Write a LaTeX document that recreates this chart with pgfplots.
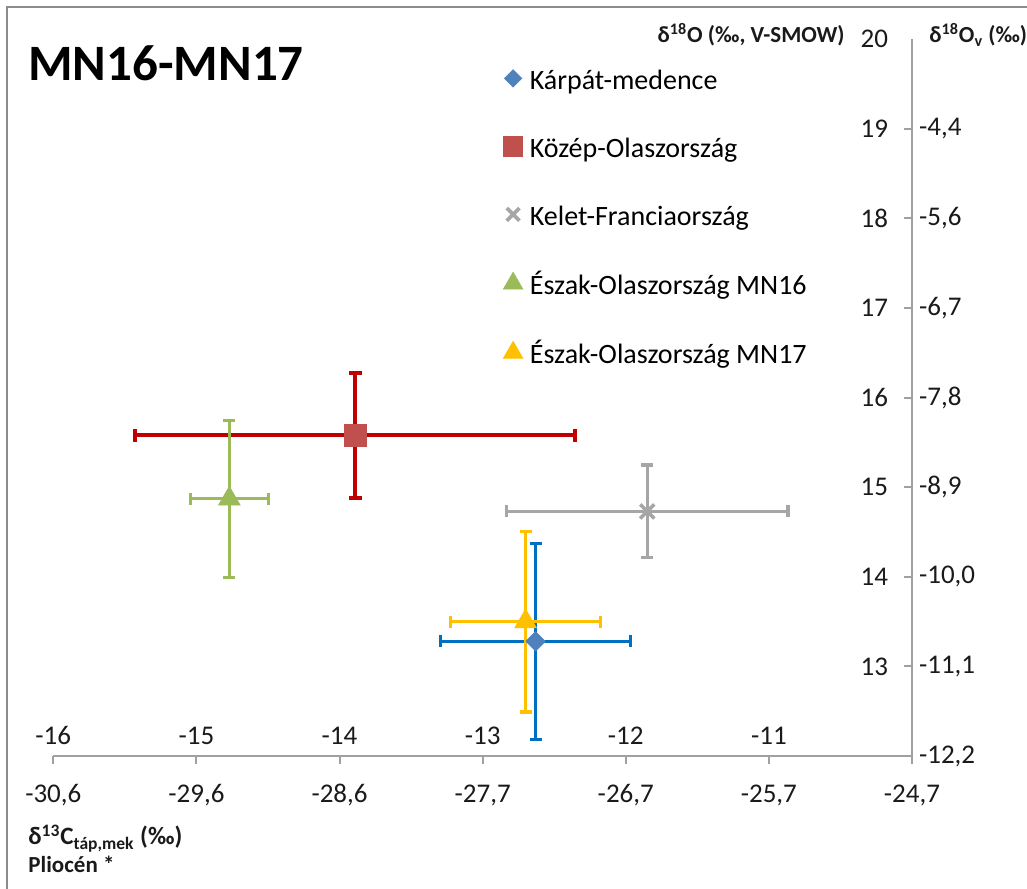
\documentclass[border=0pt]{standalone}
\usepackage{fontspec}
\setmainfont{Carlito}
\usepackage{pgfplots}
\pgfplotsset{compat=1.18}

\definecolor{blueM}{HTML}{4F81BD}
\definecolor{blueE}{HTML}{0070C0}
\definecolor{redM}{HTML}{C0504D}
\definecolor{redE}{HTML}{C00000}
\definecolor{grayE}{HTML}{A6A6A6}
\definecolor{greenE}{HTML}{9BBB59}
\definecolor{yellowE}{HTML}{FFC000}
\definecolor{axgray}{HTML}{A0A0A0}
\definecolor{bordergray}{HTML}{8C8C8C}
\definecolor{txt}{HTML}{1A1A1A}

\begin{document}
\begin{tikzpicture}[x=0.5pt,y=0.5pt]
\useasboundingbox (0,0) rectangle (1027,888);
\clip (0,0) rectangle (1027,888);
\draw[bordergray, line width=1pt] (7,-40) -- (7,881) -- (1100,881);

\begin{axis}[
  at={(26.65pt,66pt)}, anchor=south west,
  scale only axis, width=429.35pt, height=358.35pt,
  xmin=-16, xmax=-10, ymin=12, ymax=20,
  axis x line*=bottom, axis y line*=right,
  axis line style={draw=axgray, line width=1pt},
  tick style={draw=axgray, line width=1pt},
  major tick length=4pt,
  xtick align=outside, ytick align=inside,
  xtick={-16,-15,-14,-13,-12,-11,-10},
  xticklabels={{-30,6},{-29,6},{-28,6},{-27,7},{-26,7},{-25,7},{-24,7}},
  ytick={12,13,14,15,16,17,18,19},
  yticklabels={{-12,2},{-11,1},{-10,0},{-8,9},{-7,8},{-6,7},{-5,6},{-4,4}},
  tick label style={font=\fontsize{13.5}{16}\selectfont, text=txt},
  xticklabel style={anchor=base, yshift=-19.5pt},
  yticklabel style={anchor=west, xshift=0pt},
  extra x ticks={-16,-15,-14,-13,-12,-11},
  extra x tick labels={-16,-15,-14,-13,-12,-11},
  extra x tick style={major tick length=0pt, xticklabel style={anchor=base, yshift=25pt}},
  extra y ticks={13,14,15,16,17,18,19,20},
  extra y tick labels={13,14,15,16,17,18,19,20},
  extra y tick style={major tick length=0pt, yticklabel style={anchor=east, xshift=-8.5pt}},
  clip=false,
  legend style={at={(0.5237,0.9600)}, anchor=north west, draw=none, fill=none,
    font=\fontsize{14}{16}\selectfont, inner sep=0pt,
    nodes={inner sep=0pt, text height=10.5pt, text depth=3.5pt},
    row sep=20pt, column sep=3.5pt},
  legend cell align=left,
  legend image code/.code={\draw[#1, scale=0.9] plot coordinates {(0pt,2.2pt)};},
]
\addplot[only marks, mark=square*, mark size=3.4pt, mark options={rotate=45, fill=blueM, draw=blueM},
  error bars/.cd, x dir=both, x explicit, y dir=both, y explicit,
  error bar style={draw=blueE, line width=1.6pt},
  error mark options={draw=blueE, line width=1.6pt, mark size=3pt, rotate=90}]
  coordinates {(-12.63,13.28) +- (0.664,1.094)};
\addlegendentry{Kárpát-medence}

\addplot[only marks, mark=square*, mark size=5.4pt, mark options={fill=redM, draw=redM},
  error bars/.cd, x dir=both, x explicit, y dir=both, y explicit,
  error bar style={draw=redE, line width=2pt},
  error mark options={draw=redE, line width=2pt, mark size=3.2pt, rotate=90}]
  coordinates {(-13.89,15.58) +- (1.537,0.70)};
\addlegendentry{Közép-Olaszország}

\addplot[only marks, mark=x, mark size=5pt, mark options={draw=grayE, line width=1.8pt},
  error bars/.cd, x dir=both, x explicit, y dir=both, y explicit,
  error bar style={draw=grayE, line width=1.7pt},
  error mark options={draw=grayE, line width=1.7pt, mark size=3pt, rotate=90}]
  coordinates {(-11.85,14.73) +- (0.984,0.517)};
\addlegendentry{Kelet-Franciaország}

\addplot[only marks, mark=triangle*, mark size=6.2pt, mark options={fill=greenE, draw=greenE},
  error bars/.cd, x dir=both, x explicit, y dir=both, y explicit,
  error bar style={draw=greenE, line width=1.6pt},
  error mark options={draw=greenE, line width=1.6pt, mark size=3pt, rotate=90}]
  coordinates {(-14.77,14.87) +- (0.274,0.876)};
\addlegendentry{Észak-Olaszország MN16}

\addplot[only marks, mark=triangle*, mark size=6.2pt, mark options={fill=yellowE, draw=yellowE},
  error bars/.cd, x dir=both, x explicit, y dir=both, y explicit,
  error bar style={draw=yellowE, line width=1.6pt},
  error mark options={draw=yellowE, line width=1.6pt, mark size=3pt, rotate=90}]
  coordinates {(-12.70,13.50) +- (0.524,1.008)};
\addlegendentry{Észak-Olaszország MN17}
\end{axis}

\node[anchor=west, inner sep=0pt, font=\fontsize{25.5}{30}\selectfont\bfseries] at (28,824.5) {MN16-MN17};
\node[anchor=base east, inner sep=0pt, font=\fontsize{11.5}{13}\selectfont\bfseries, text=txt] at (845,845) {δ\textsuperscript{18}O (‰, V-SMOW)};
\node[anchor=base west, inner sep=0pt, font=\fontsize{11.5}{13}\selectfont\bfseries, text=txt] at (929,845) {δ\textsuperscript{18}O\textsubscript{v} (‰)};
\node[anchor=base west, inner sep=0pt, font=\fontsize{12.5}{14}\selectfont\bfseries, text=txt] at (28,43) {δ\textsuperscript{13}C\textsubscript{táp,mek} (‰)};
\node[anchor=base west, inner sep=0pt, font=\fontsize{11.5}{13}\selectfont\bfseries, text=txt] at (28,16) {Pliocén *};
\end{tikzpicture}
\end{document}
